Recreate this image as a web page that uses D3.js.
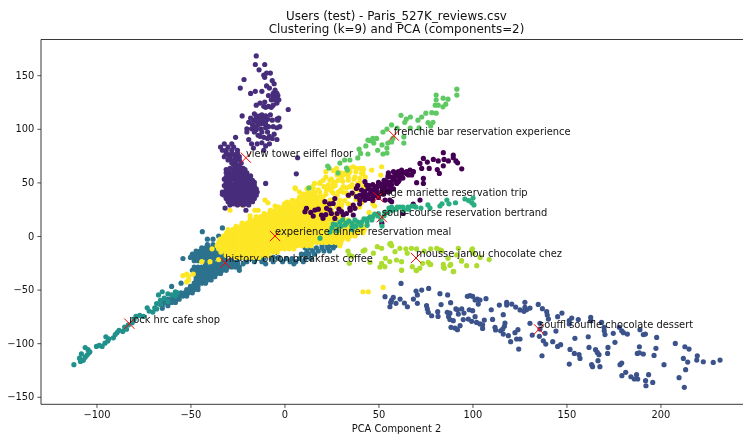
<!DOCTYPE html>
<html><head><meta charset="utf-8">
<style>html,body{margin:0;padding:0;background:#fff}svg{display:block;filter:blur(0.35px)}text{font-family:"DejaVu Sans",sans-serif;fill:#111}</style>
<script src="https://cdn.jsdelivr.net/npm/d3@7"></script></head><body>
<svg id="c" width="743" height="434"></svg>
<script>
const titleLines = ["Users (test) - Paris_527K_reviews.csv", "Clustering (k=9) and PCA (components=2)"];
const xLabel = "PCA Component 2";
const xTicks = [-100,-50,0,50,100,150,200];
const yTicks = [-150,-100,-50,0,50,100,150];
const clusterColors = ["#440154","#472d7b","#3b528b","#2c728e","#21918c","#28ae80","#5ec962","#addc30","#fde725"];

// rows are [y, x, x, x ...]
const tealBlueRows = [
 [4,-43.7],[7.5,-33],[0,-35],[-3,-41,-38],[-8,-41,-38],[-11,-44,-42,-40,-38.5,-36],[-14,-47,-45,-43,-41,-39,-37,-35],
 [-17,-49,-47,-45,-43,-41,-39,-37,-35,-33],[-20,-50,-48,-46,-44,-42,-40,-38,-36,-34,-32,-28,-24,-20,-16,-12,-6,-3],
 [-21,-54,-27,-24,-21,-18,-14,-11,-7,-3,1,4,8,11,14],[-23,-48,-46,-44,-41,-38,-35,-33,-31,-29,-26],
 [-24,-25,-20,-16,-12,-6,-1,3,6,10],[-26,-42,-39,-37,-35,-33,-31,-29,-27,-25,-22,-10,5],
 [-29,-48,-46,-44,-42,-40,-38,-36,-34,-32,-30,-28,-26,-24],[-32,-49,-47,-45,-43,-41,-39,-37,-35,-33,-31,-24],
 [-35,-48,-46,-44,-42,-40,-38,-36,-34],[-38,-47,-45,-43,-41,-39,-37],[-41,-47,-45,-43,-41,-39],[-44,-55,-48,-46,-44,-42],
 [-47,-60,-50,-48,-46],[-50,-52,-50,-48,-46],[-53,-55,-53,-51,-49],[-56,-58,-56,-54,-52],[-59,-62,-60,-58,-56],
 [-62,-64,-62,-60,-58],[-65,-65,-62],[-67.5,-65],
 [-9,20,23,25,27],[-11,11,14,17,20,23,26],[-14,12,15,18,21,24],[-17,9,11,13,16]
];
const yellowRows = [
 [36,10,12.5,15,17.5],
 [33,4.8,7.2,9.8,12.2,14.8,17.2,19.8],
 [30,0,2.5,5,7.5,10,12.5,15,17.5,20,22.5],
 [27,-3.2,-0.8,1.8,4.2,6.8,9.2,11.8,14.2,16.8,19.2,21.8,24.2],
 [24,-7.5,-5,-2.5,0,2.5,5,7.5,10,12.5,15,17.5,20,22.5,25],
 [21,-10.8,-8.2,-5.8,-3.2,-0.8,1.8,4.2,6.8,9.2,11.8,14.2,16.8,19.2,21.8,24.2,26.8],
 [18,-15,-12.5,-10,-7.5,-5,-2.5,0,2.5,5,7.5,10,12.5,15,17.5,20,22.5,25,27.5,30],
 [15,-18.2,-15.8,-13.2,-10.8,-8.2,-5.8,-3.2,-0.8,1.8,4.2,6.8,9.2,11.8,14.2,16.8,19.2,21.8,24.2,26.8,29.2,31.8,33.8],
 [12,-22.5,-20,-17.5,-15,-12.5,-10,-7.5,-5,-2.5,0,2.5,5,7.5,10,12.5,15,17.5,20,22.5,25,27.5,30,32.5,35,37.5],
 [9,-25.8,-23.2,-20.8,-18.2,-15.8,-13.2,-10.8,-8.2,-5.8,-3.2,-0.8,1.8,4.2,6.8,9.2,11.8,14.2,16.8,19.2,21.8,24.2,26.8,29.2,31.8,34.2,36.8,39.2,41.8],
 [6,-30,-27.5,-25,-22.5,-20,-17.5,-15,-12.5,-10,-7.5,-5,-2.5,0,2.5,5,7.5,10,12.5,15,17.5,20,22.5,25,27.5,30,32.5,35,37.5,40,42.5],
 [3,-30.8,-28.2,-25.8,-23.2,-20.8,-18.2,-15.8,-13.2,-10.8,-8.2,-5.8,-3.2,-0.8,1.8,4.2,6.8,9.2,11.8,14.2,16.8,19.2,21.8,24.2,26.8,29.2,31.8,34.2,36.8,39.2,41.8],
 [0,-32.5,-30,-27.5,-25,-22.5,-20,-17.5,-15,-12.5,-10,-7.5,-5,-2.5,0,2.5,5,7.5,10,12.5,15,17.5,20,22.5,25,27.5,30,32.5,35,37.5],
 [-3,-34.2,-31.8,-29.2,-26.8,-24.2,-21.8,-19.2,-16.8,-14.2,-11.8,-9.2,-6.8,-4.2,-1.8,0.8,3.2,5.8,8.2,10.8,13.2,15.8,18.2,20.8,23.2,25.8,28.2,30.8,33.8],
 [-6,-35,-32.5,-30,-27.5,-25,-22.5,-20,-17.5,-15,-12.5,-10,-7.5,-5,-2.5,0,2.5,5,7.5,10,12.5,15,17.5,20,22.5,25,27.5,30],
 [-9,-35.8,-33.2,-30.8,-28.2,-25.8,-23.2,-20.8,-18.2,-15.8,-13.2,-10.8,-8.2,-5.8,-3.2,-0.8,1.8,4.2,6.8,9.2,11.8,14.2,29.5],
 [-12,-35,-32.5,-30,-27.5,-25,-22.5,-20,-17.5,-15,-12.5,-10,-7.5,-5,-2.5,0,2.5,5],
 [-15,-33.8,-31.2,-28.8,-26.2,-23.8,-21.2,-18.8,-16.2,-13.8,-11.2,-8.8,-6.2,-3.8],
 [-18,-31,-28.5,-26,-23.5,-21,-18.5,-16,-13.5,-11,-8.5],
 [-20,-26,-23.5,-21,-18.5,-16,-13.5]
];
const yellowStrayX = [27.7,30.4,20.6,18.8,24.2,25.9,32.1,34.8,38.3,41.9,36.6,29.5,33.9,37.5,39.2,31.2,28.6,34.8,37.5,33,29.5,25.9,22.4,18.8,15.3,12.6,10,20.6,17,24.2,30.4,33.9,27.7,25.9,23.3,28.6,31.2,41,40.1,46.4,51.7,51.2,26.9,35,40.4,41.8,15,5.9,-10.4,-8.8,4,9.5,12.4,-29,-18.3,-15.7,-22.6,-22,1.3,5.6,-54,-52,-51,-48.5,-52,-51,-44,-39.6,-35,-38.5,41.8,44.6,52.5,-14,-5,8,14,
 10,13,16,19,22,25,28,31,34,37,12,15,18,21,24,27,30,33,36,39,42,8,11,14,17,20,23,26,29,32,35,38,41,44,47,16,19,22,25,28,31,34,37,40,43,22,26,30,34,38,42,46,30,35,40,45,48];
const yellowStrayY = [63,55,52,49,52,49,58.4,60,63,63,64.6,58.4,52,55,49,46,41,46,44.4,40,33.5,40,43,41,44.4,40,35,36.6,36.6,33.5,29,30,27.3,46,47.5,52,57,58.4,53.8,61.5,64.6,56.8,50,63.4,63,58,46,44,33.6,31,33,37,40,24,18.7,24,29,30,31.7,44.8,-37,-35.5,-37.5,-35.5,-43,-41,-24,-24,-22,-12,-52,-52,-48,24,28,36,40,
 39,38,40,37,39,42,38,41,37,39,44,45,43,46,44,47,43,45,48,43,46,41,36,33,35,32,30,34,31,33,29,34,31,36,30,49,50,55,53,57,51,55,53,50,55,60,61,59,58,60,62,44,26,24,27,22,28];

const purpleRows = [
 [168,-15],[160,-15.5,-10.5],[155,-13.5],[152,-9.5,-7.5],[150,-11],[148,-10.5],[146,-21.5],[145,-6.5],[142,-5.5],[140,-9.5],
 [138,-23.5,-8],[136,-5],[135,-15.5,-12],[133,-18,-6,-4],[131,-8.5,-3.5],[130,-6],[129,-4],[127,-7,-3,-5],[125,-10.5],[124,-13,-4],[122,-15,-6],[121,-11,-8.5],[120,-7,-10],[118,2],
 [114,-16],[113,-12,-7.5],[112,-22.5,-15,-13,-10],[111,-14],[110,-18,-11,-3],[109,-15,-12,-9,-4],[108,-16.5,-6.5,-3.5],[107,-15,-13,-10],[106,-19],[105,-12],[104,-14,-17,-10],[103,-16.5],[102,-8.5,-6,-2.5],[101,-15,-10,-4],
 [100,-20,-17.5,-12.5],[99,-15],[97,-20,-16,-12,-9],[95,-5.5],[94,-14],[93,-8,-13],[92,-26,-11],[91,-9,-6.5],[90,-19,-4],[87,-12],[86,-32,-28,-17.5,-14.5,-8],[84,-10],[83,-34,-30,-27],[82,-16.5],[80,-33,-31,-28,-25,-11],
 [77,-31,-28,-25],[76,-30,-27],[74,-32,-29,-26,-24],[73,7],[72,-29,-26],[71,-30,-27,-24],[68,-28,-26,-23],[66,-27,-25],[65,-26,-24],[63,-29,-25,-22],[62,-31,-27,-24,-21],
 [59,-31,-29,-26,-23,-20],[58,6.3,-28,-25,-22],[56,-30,-27,-25,-22,-20,-18],[55,-31,-28,-26,-23,-21,-19],[53,-32,-30,-28,-25,-23,-20,-18],[52,-31,-29,-26,-24,-21,-19,-17],[50,-31,-29,-26,-24,-22,-19,-16],[49,-10],[48,-31,-28,-26,-23,-21,-17],
 [47,-32,-30,-27,-25,-22,-20,-18,-16],[45,-30,-27,-25,-23,-20,-18,-16],[44,-31,-29,-26,-24,-21,-19,-17,-15],[42,-31,-29,-26,-24,-22,-20,-17,-15],[41,-33,-30,-28,-25,-23,-21,-18,-16,-14.5],[39,-33,-31,-28,-25,-23,-20,-18,-16],
 [38,-32,-29,-27,-24,-22,-19,-17,-15],[36,-30,-27,-24,-22,-19,-17],[35,-31,-28,-26,-23,-21,-18,-16],[33,-29,-26,-23,-21,-18],[32,-30,-27,-25,-22,-20,-17],[30,-27,-24,-21],[29,-29,-25,-22,-19],[26,-31.6],[24,-20.5]
];
const blueX = [62,53.5,56.1,57,57.9,56.5,59.3,61.5,63.8,65.4,68.6,70,73,70.7,70.7,76.7,82.7,86.8,83.3,88.4,75.6,76,76.5,78.3,81.5,81.7,86.6,88,87.3,88,89.8,88.6,90.7,92,93.4,91.2,92.5,92,94.3,95.5,95.1,97.8,98.3,100.1,101.4,99.6,102.2,104,105.4,105.4,106.3,97.3,98.7,100.1,101.4,102.6,104,103.1,107.2,110,110.7,112,112.3,114.3,115,116.4,116.4,117.3,117,116.1,118.2,118.2,120.9,123,119.1,120.3,122.6,124.2,123.5,125.3,124.6,125.3,127.9,127.9,128.8,127.4,130.6,130.6,131.8,135,137.2,139.5,139.8,140.4,135.9,135.9,138.6,135.6,137.7,139,137,142.7,144.4,145.3,147.6,145.3,146.9,151.5,152.8,151.5,156.3,154.5,151.9,151.5,154.2,156.7,157.2,161.6,162,162.9,163,165.5,166.4,167.3,166.8,163.4,163.9,167.8,168.7,170,170.1,170.5,172.1,171.9,174.9,175.8,178.1,179.4,180.3,182.4,178.5,179.4,179.5,181.5,184.3,186.1,187.9,187.3,187.7,188.8,189.1,188.8,190.9,190.9,192,192.1,192.3,193.7,195.9,196.6,197.6,198,201.9,207.9,209.9,212.2,212.7,213,213.4,214.5,215.2,219.3,219.6,222.8,228.1,231.7];
const blueY = [-44.2,-56.6,-66,-59.7,-57.3,-62,-62.8,-58.8,-62.5,-66,-58.8,-51.3,-50.4,-55,-62.8,-48.9,-53.8,-55,-64,-62.2,-65,-68,-71.2,-74.4,-70.6,-75,-71.2,-72,-75.3,-78,-79,-85.2,-85.9,-87.4,-83.7,-68,-72.8,-68.8,-68,-71.9,-78,-77.5,-68.8,-69.7,-75.3,-79.6,-80.6,-82,-82.8,-86.2,-78.4,-56.3,-55.7,-56.3,-59.7,-58.8,-59.7,-63.5,-58.5,-68.8,-77.8,-85.2,-87.7,-64.4,-88.4,-73.4,-91.5,-81.2,-84.3,-86.8,-61.9,-64.4,-63.5,-66.3,-93,-98.6,-90.2,-87.4,-96.1,-96.1,-105.5,-69,-61.9,-66.6,-68.8,-70.3,-67.2,-81.5,-92.4,-63.8,-67.8,-70.6,-73.7,-77.5,-81.5,-86.8,-90.8,-93.6,-97.7,-100.8,-111.7,-98.6,-88.7,-75.3,-71.9,-103,-101.4,-79,-76.5,-82.1,-78,-95.5,-105.8,-119.5,-109.5,-110.7,-114.2,-94,-103.9,-75.9,-79,-106,-108.6,-110.7,-116.3,-120,-121.9,-121.9,-80.6,-85.2,-88.4,-92,-103.9,-109.5,-90.8,-99.2,-85.2,-88.4,-90.2,-91.5,-120,-118.5,-130.3,-127.2,-131.3,-133.4,-133.4,-129.4,-109.5,-103.3,-87.4,-108.9,-110.1,-92,-91.5,-135,-139.7,-129.4,-136.6,-111.4,-104.8,-94.6,-120,-100.2,-132.2,-114.2,-141.2,-103.3,-124.7,-117.6,-105.5,-115.7,-111.7,-117.3,-117.9,-115.7];
const rockX = [-112,-108.5,-109,-107,-106,-105,-104,-108,-106,-104.5,-103.5,-100,-98.5,-97,-95.5,-94,-95,-93.5,-90,-91,-89,-88,-86,-85,-84,-83,-81,-80,-79,-77,-75,-73,-72,-70,-68,-68,-66,-67,-65,-62,-60,-58,-57,-64,-62,-66,-58,-69];
const rockY = [-120,-117,-114,-116,-113,-111,-109,-110,-104,-106,-108,-103,-102,-103,-100,-98,-94,-96,-92,-95,-90,-88,-89,-85,-87,-83,-81,-78,-75,-74,-75,-67,-70,-71,-68,-63,-60,-55,-52,-54,-55,-56,-53,-58,-61,-64,-52,-67];
const soupX = [18.9,24.2,25.3,27.4,29.5,32.2,34.3,35.9,37.5,39,40.7,42.3,43.9,45.5,46.5,48,49.7,51.3,51.9,53.5,55.6,57.2,59.3,61.4,63.6,65.7,67.8,69.9,72.6,76.3,77.4,82.7,83.8,86.4,87.5,91,96,99.7,100.3,100.8,98,28,36,
 30,33,36,41,44,47,50,53,55,57,60,63,66,69,44,38,31,26];
const soupY = [-2,3.7,7.5,10.3,13,10.3,14,9.3,15,13,10,15.9,13,17.7,15,20.5,18.7,15,9.3,22.4,26,24,25,27,24,27,28,27,26,29,26,28,30,33.6,30,31,34.5,31,35.4,29,33,5,6,
 9,12,12,13,16,18,21,19,22,27,27,27,25,28,10,9,15,11];
const darkX = [84.5,89.8,73.9,76,72.1,79.2,81.8,84.9,87.2,89.8,91.2,92.1,94.3,73,77,81.3,82.4,84.5,73.9,70.3,73.9,72.1,57,68.5,63.2,55.3,58,62.3,66.8,68.5,60.6,58.8,62.3,65,67.7,52.6,54.4,57,58.8,56.1,59.7,50,51.7,53.5,48.2,49,51.7,55.3,45.5,47.3,50,52.6,53.5,55.2,61.4,65,68.5,57.8,60.5,54.3,50.8,52.5,48.1,44.5,42.8,43.7,46.3,42.8,41,38.3,38.3,45.4,41.9,36.6,34.8,40.1,42.8,49,54.3,56,21.5,26.8,25.9,22.4,25,15.3,19.7,20.5,16.2,33,31.3,30.4,36.6,37.5,11.7,10.9,26.8,24.2,51.8,
 47,49,46,52,54,56,57,58,60,61,63,64,62,66,53,50,47,44,42,40,55,52,54,56,49,45,39,36,34,44,47,58,18,24,29,35,28,22,14,40];
const darkY = [77.7,75.5,72.4,69,67.7,71.4,70,71.4,70,73,70,68.3,62.7,63,63,62,58.4,65.5,53.7,49.7,49,33.5,32,29.8,21,59,60,61.5,61.5,60,60,57,58,58,57,49,50.6,55,52,46,49,47.5,46,46,44.4,41,41,41,39.7,36.6,36,39,33.5,56.9,55.3,60,60,52.2,50.7,49,47.5,44.4,46,44.4,50.7,47.5,41.3,41.3,42.9,44.4,36.7,35,36.7,28.9,25.8,33.5,33.5,39.8,41.3,33.5,32,35,30.4,25.8,21,18.6,19.6,16.5,24.2,21,19.6,22.7,19.6,25.8,25.8,22.7,16.4,24.2,12,
 40,38,43,44,48,50,48,54,56,52,54,59,57,57,52,50,48,38,40,38,55,47,43,42,44,47,47,40,38,35,33,44,25,30,25,24,21,20,22,30];
const greenX = [91.7,91.7,80.7,80.7,84.4,87,85.8,84.3,80.2,81.8,78.4,80.7,75.2,73,71,67,64.8,62,64,79,76.4,77.8,71.6,66.9,57,59.9,54.5,52.4,63.5,63.5,57.7,57,55,51.9,54.5,54.5,52.4,49.6,49,47,47.5,45.5,44.4,43.3,39.7,39,34.8,32,29.5,23,23.7,33,33.5,28.5,44.4,13,40.5];
const greenY = [137,131.5,131.5,127,128.6,127.6,123,120.5,122,122,115,114.6,114.6,111,108,111,109,112.6,106,106,105.7,102.6,100.8,100.7,103.6,100.7,99.7,97,92.4,86.7,91,87.7,86.7,85,82,77.4,76.5,80,91,91,86.7,88.9,89.5,84,81,72.8,70.9,70.9,68,65.3,63.4,63.4,61.5,58.8,76.5,44.8,77];
const mousseX = [33.8,34.5,34.5,36,41.8,42.8,45.5,47.3,49.4,51.7,50.8,53.4,51.7,53.7,56.5,57,56,58.8,61.4,59.6,62.3,64.6,65.3,62.3,67.6,70.3,68,70,72,73.5,74.3,76.5,77.8,77.8,81,82.7,84.5,85,87,88.4,89.8,91.6,94.2,96.9,100,100.4,102.3,104.1,108.9,92.5,99.6,94.2,90,84.5,88,56,62.3,70.3,77.4,83.6];
const mousseY = [-14,-17.7,-25.5,-19,-14,-13,-24.5,-16,-10,-11.5,-29,-28.6,-25.5,-20.8,-6.8,-9,-23.9,-14.6,-11.5,-22.4,-24,-12,-16,-31.7,-11.5,-12.1,-28.6,-32,-30,-25.5,-14,-24.5,-26.5,-12,-11.5,-13,-26.5,-30,-20.8,-26.5,-33.3,-17.7,-23.4,-27.7,-12,-16,-27.7,-20,-22,-11.5,-13,-23,-33,-29,-27.5,-7.5,-32,-32.3,-26.7,-13.7];

const centerNames = ["view tower eiffel floor","frenchie bar reservation experience","ange mariette reservation trip","soup-course reservation bertrand","experience dinner reservation meal","history onion breakfast coffee","rock hrc cafe shop","mousse janou chocolate chez","souffl souffle chocolate dessert"];
const centerX = [-20.5,58.2,49.9,51.8,-5,-31.5,-82.5,70,135.4];
const centerY = [73,93.6,36.3,17.6,0,-25,-81.8,-20.5,-87];

const fromRows = rows => rows.flatMap(r => r.slice(1).map(x => [x, r[0]]));
const zip = (a, b) => a.map((v, i) => [v, b[i]]);
// draw order follows what overlaps what in the picture
const layers = [
 [3, fromRows(tealBlueRows)],
 [8, fromRows(yellowRows).concat(zip(yellowStrayX, yellowStrayY))],
 [1, fromRows(purpleRows)],
 [2, zip(blueX, blueY)],
 [4, zip(rockX, rockY)],
 [6, zip(greenX, greenY)],
 [7, zip(mousseX, mousseY)],
 [0, zip(darkX, darkY)],
 [5, zip(soupX, soupY)]
];

const W = 743, H = 434, L = 41, R = 752, T = 39.5, B = 404.3;
const x = d3.scaleLinear().domain([-129.5, 248.7]).range([L, R]);
const y = d3.scaleLinear().domain([-157, 183.3]).range([B, T]);
const svg = d3.select("#c");

layers.forEach(([c, pts]) => {
  svg.append("g").selectAll("circle").data(pts).join("circle")
    .attr("cx", d => x(d[0])).attr("cy", d => y(d[1])).attr("r", 2.6)
    .attr("fill", clusterColors[c]);
});

const gx = svg.append("g").attr("transform", `translate(0,${B})`)
  .call(d3.axisBottom(x).tickValues(xTicks).tickSize(3.6).tickPadding(3));
const gy = svg.append("g").attr("transform", `translate(${L},0)`)
  .call(d3.axisLeft(y).tickValues(yTicks).tickSize(3.6).tickPadding(3));
[gx, gy].forEach(g => {
  g.selectAll("text").style("font-size", "9.9px").style("font-family", '"DejaVu Sans"').attr("fill", "#222");
  g.selectAll("line").attr("stroke", "#222").attr("stroke-width", 0.8);
  g.select(".domain").remove();
});
svg.append("path")
  .attr("d", d3.line()([[L, B], [L, T], [R, T], [R, B], [L, B]]))
  .attr("fill", "none").attr("stroke", "#222").attr("stroke-width", 0.9);

const sym = d3.symbol().type(d3.symbolX).size(70);
svg.append("g").selectAll("path").data(centerX).join("path")
  .attr("d", sym()).attr("transform", (d, i) => `translate(${x(d)},${y(centerY[i])})`)
  .attr("fill", "none").attr("stroke", "#f00").attr("stroke-width", 1);
svg.append("g").selectAll("text").data(centerNames).join("text")
  .attr("x", (d, i) => x(centerX[i])).attr("y", (d, i) => y(centerY[i]) - 1)
  .style("font-size", "9.9px").text(d => d);

svg.append("g").selectAll("text").data(titleLines).join("text")
  .attr("x", (L + R) / 2).attr("y", (d, i) => 20 + i * 13)
  .attr("text-anchor", "middle").style("font-size", "11.9px").text(d => d);
svg.append("text").attr("x", (L + R) / 2).attr("y", 432)
  .attr("text-anchor", "middle").style("font-size", "9.9px").text(xLabel);
</script></body></html>
